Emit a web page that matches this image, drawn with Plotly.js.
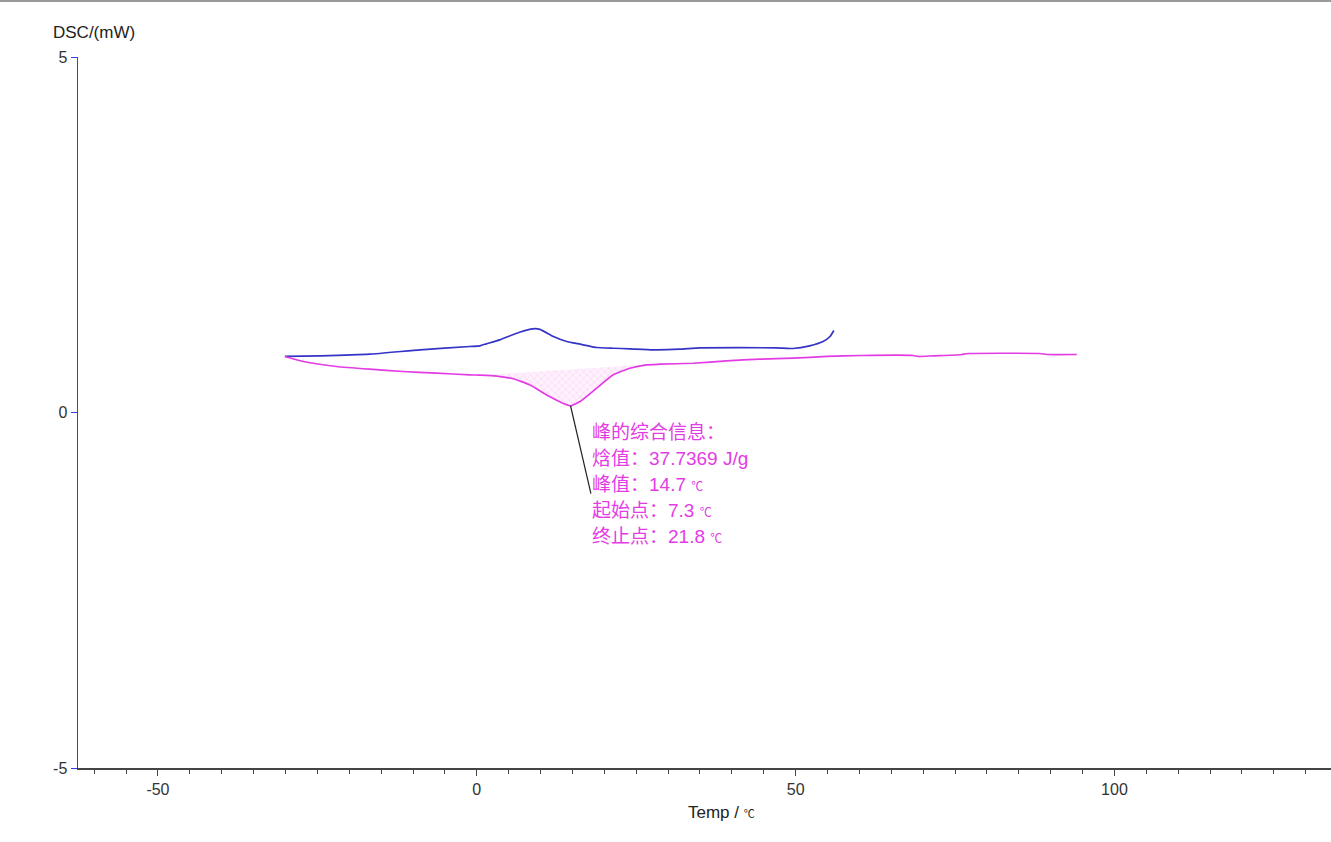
<!DOCTYPE html>
<html>
<head>
<meta charset="utf-8">
<script src="https://cdn.plot.ly/plotly-3.0.1.min.js"></script>
<style>
  html, body { margin: 0; padding: 0; background: #fff; }
  #chart { width: 1331px; height: 842px; }
</style>
</head>
<body>
<div id="chart"></div>
<script>
// Blue DSC curve
const blueTemp = [-30.1, -24.6, -16.8, -8.9, -1.1, 0.5, 1.5, 3.6, 6.7, 8.8, 9.9, 12.0, 14.1, 16.2, 18.8, 21.4, 24.0, 27.6, 31.8, 35.0, 47.0, 49.6, 52.2, 54.3, 55.4, 56.0];
const blueDSC  = [0.788, 0.797, 0.820, 0.882, 0.928, 0.938, 0.966, 1.022, 1.129, 1.177, 1.170, 1.069, 0.999, 0.961, 0.914, 0.904, 0.896, 0.882, 0.890, 0.910, 0.910, 0.900, 0.938, 0.999, 1.069, 1.153];

// Magenta DSC curve
const magTemp = [-30.1, -27.2, -22.0, -16.8, -11.6, -6.3, -1.1, 0.5, 3.1, 5.7, 8.3, 10.9, 13.5, 14.7, 16.2, 18.8, 21.4, 24.0, 26.6, 28.7, 33.9, 39.2, 44.4, 49.6, 54.9, 60.3, 68.4, 69.2, 71.6, 75.8, 77.1, 88.3, 89.4, 94.1];
const magDSC  = [0.788, 0.717, 0.647, 0.609, 0.577, 0.553, 0.530, 0.525, 0.512, 0.475, 0.390, 0.249, 0.131, 0.095, 0.155, 0.342, 0.530, 0.623, 0.671, 0.679, 0.693, 0.727, 0.750, 0.764, 0.788, 0.802, 0.802, 0.788, 0.797, 0.812, 0.830, 0.830, 0.816, 0.816];

// Integrated peak area: curve points then baseline end / start
const peakTemp = [2.5, 3.1, 5.7, 8.3, 10.9, 13.5, 14.7, 16.2, 18.8, 21.4, 24.0, 25.6, 25.6, 2.5];
const peakDSC  = [0.516, 0.512, 0.475, 0.390, 0.249, 0.131, 0.095, 0.155, 0.342, 0.530, 0.623, 0.660, 0.668, 0.534];

// Leader line from peak to the info text
const leaderTemp = [14.7, 17.9];
const leaderDSC  = [0.095, -1.14];

// Peak information text
const infoLines = ["峰的综合信息：", "焓值：37.7369 J/g", "峰值：14.7 ℃", "起始点：7.3 ℃", "终止点：21.8 ℃"];
const infoY = [-0.28, -0.645, -1.01, -1.375, -1.74];

const xTickVals = [-50, 0, 50, 100];
const yTickVals = [-5, 0, 5];

const magenta = 'rgb(228,60,228)';
const blue = 'rgb(52,52,200)';
const fontFam = 'Arial, "Liberation Sans", "Noto Sans CJK SC", sans-serif';

const traces = [
  {
    x: peakTemp, y: peakDSC, type: 'scatter', mode: 'lines',
    fill: 'toself',
    fillcolor: 'rgba(248,200,243,0.45)',
    fillpattern: { shape: 'x', fgcolor: 'rgba(238,160,232,0.6)', bgcolor: 'rgba(253,228,250,0.5)', size: 5, solidity: 0.15 },
    line: { width: 0 }, hoverinfo: 'skip', showlegend: false
  },
  {
    x: blueTemp, y: blueDSC, type: 'scatter', mode: 'lines',
    line: { color: blue, width: 1.7, shape: 'spline', smoothing: 0.4 }, showlegend: false
  },
  {
    x: magTemp, y: magDSC, type: 'scatter', mode: 'lines',
    line: { color: magenta, width: 1.7, shape: 'spline', smoothing: 0.4 }, showlegend: false
  },
  {
    x: leaderTemp, y: leaderDSC, type: 'scatter', mode: 'lines',
    line: { color: '#222', width: 1.2 }, showlegend: false, hoverinfo: 'skip'
  }
];

const annotations = infoLines.map((t, i) => ({
  x: 17.75, y: infoY[i], xref: 'x', yref: 'y',
  text: t.replace('℃', '<span style="font-size:12px">℃</span>'),
  showarrow: false, xanchor: 'left', yanchor: 'middle', align: 'left',
  font: { family: fontFam, size: 19, color: magenta }
}));

annotations.push({
  x: -27 / 1253, y: 1.035, xref: 'paper', yref: 'paper',
  text: 'DSC/(mW)', showarrow: false, xanchor: 'left', yanchor: 'middle',
  font: { family: fontFam, size: 17, color: '#222' }
});
annotations.push({
  x: (722 - 477) / 6.375, y: -45 / 711, xref: 'x', yref: 'paper',
  text: 'Temp / <span style="font-size:11px">℃</span>', showarrow: false,
  xanchor: 'center', yanchor: 'middle',
  font: { family: fontFam, size: 17, color: '#222' }
});

const layout = {
  width: 1331, height: 842,
  margin: { l: 78, r: 0, t: 57, b: 74 },
  paper_bgcolor: '#fff', plot_bgcolor: '#fff',
  showlegend: false,
  xaxis: {
    range: [-62.54, 133.96], tickvals: xTickVals, ticktext: xTickVals.map(String),
    ticks: 'outside', ticklen: 6, tickcolor: '#444', tickwidth: 1,
    minor: { dtick: 5, tick0: 0, ticks: 'outside', ticklen: 4, tickcolor: '#444', tickwidth: 1 },
    showline: true, linecolor: '#444', linewidth: 1.5,
    showgrid: false, zeroline: false,
    tickfont: { family: fontFam, size: 16, color: '#333' }
  },
  yaxis: {
    range: [-5, 5], tickvals: yTickVals, ticktext: yTickVals.map(String),
    ticks: 'outside', ticklen: 6, tickcolor: 'rgb(60,60,230)', tickwidth: 1,
    showline: true, linecolor: 'rgb(60,60,230)', linewidth: 1.5,
    showgrid: false, zeroline: false,
    tickfont: { family: fontFam, size: 16, color: '#333' }
  },
  annotations: annotations,
  shapes: [
    { type: 'line', xref: 'paper', yref: 'paper', x0: -78 / 1253, x1: 1, y0: 767 / 711, y1: 767 / 711,
      line: { color: '#999', width: 2 } }
  ]
};

Plotly.newPlot('chart', traces, layout, { displayModeBar: false, staticPlot: true });
</script>
</body>
</html>
